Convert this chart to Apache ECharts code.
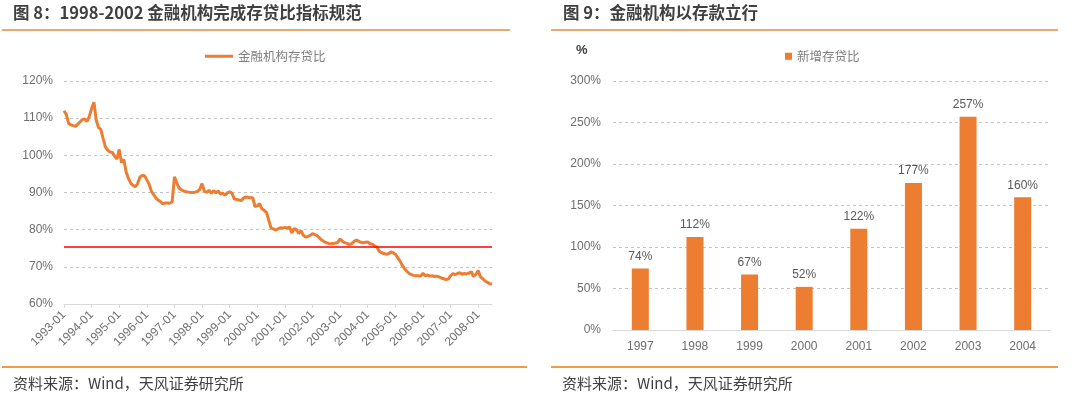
<!DOCTYPE html>
<html>
<head>
<meta charset="utf-8">
<script src="https://cdn.jsdelivr.net/npm/echarts@6/dist/echarts.min.js"></script>
<style>
html,body{margin:0;padding:0;background:#fff;}
#c{width:1080px;height:394px;}
</style>
</head>
<body>
<div id="c"></div>
<script>
// ---- Data ----
const lineYears = ['1993','1994','1995','1996','1997','1998','1999','2000','2001','2002','2003','2004','2005','2006','2007','2008'];
const lastMonth2008 = 7;
// monthly loan-to-deposit ratio (%), 1993-01 .. 2008-07
const ratio1993 = [112.0,111.0,108.6,108.2,108.0,107.8,108.4,109.0,109.6,109.8,109.1,110.5];
const ratio1994 = [112.6,114.3,109.5,107.5,107.0,104.5,102.3,101.4,100.9,100.8,99.8,99.0];
const ratio1995 = [101.6,98.0,98.9,95.5,93.8,92.5,91.9,91.6,92.4,94.2,94.6,94.5];
const ratio1996 = [93.4,92.2,90.3,89.4,88.5,87.9,87.5,86.9,87.2,87.2,87.1,87.5];
const ratio1997 = [94.2,92.6,91.2,90.7,90.4,90.2,90.1,90.0,90.0,90.1,90.3,90.8];
const ratio1998 = [92.4,90.4,90.0,90.6,89.8,90.5,89.9,90.4,89.6,89.8,89.3,89.9];
const ratio1999 = [90.2,89.8,88.3,88.1,88.0,87.8,88.5,88.8,88.7,88.6,88.6,86.2];
const ratio2000 = [86.4,87.0,85.6,85.2,84.6,82.5,80.4,80.2,79.9,80.2,80.5,80.4];
const ratio2001 = [80.6,80.4,80.7,79.1,80.3,80.0,79.0,79.7,78.5,78.0,78.2,78.5];
const ratio2002 = [78.9,78.7,78.4,77.8,77.2,76.8,76.5,76.3,76.2,76.3,76.4,76.6];
const ratio2003 = [77.5,76.9,76.5,76.3,76.0,76.2,76.8,77.2,76.9,76.6,76.5,76.6];
const ratio2004 = [76.7,76.2,76.1,75.6,75.3,74.2,73.8,73.6,73.4,73.5,74.0,73.8];
const ratio2005 = [73.4,72.5,71.6,70.4,69.5,68.8,68.2,67.9,67.7,67.6,67.6,67.5];
const ratio2006 = [68.3,67.6,67.8,67.5,67.6,67.4,67.5,67.3,67.0,66.8,66.6,66.7];
const ratio2007 = [67.6,68.2,67.9,68.2,68.4,68.0,68.2,68.1,68.3,68.7,67.4,68.0];
const ratio2008 = [69.0,67.3,66.8,66.2,65.8,65.5,65.3];
const regulatoryLine = 75.4;

const barYears = ['1997','1998','1999','2000','2001','2002','2003','2004'];
const newRatio = [74,112,67,52,122,177,257,160];

const leftYTicks = {min:60, max:120, interval:10};
const rightYTicks = {min:0, max:300, interval:50};

// ---- Build ----
const ratioAll = [].concat(ratio1993,ratio1994,ratio1995,ratio1996,ratio1997,ratio1998,ratio1999,ratio2000,
  ratio2001,ratio2002,ratio2003,ratio2004,ratio2005,ratio2006,ratio2007,ratio2008);
const months = [];
lineYears.forEach(function(y){
  const n = (y === '2008') ? lastMonth2008 : 12;
  for (let m = 1; m <= n; m++) months.push(y + '-' + (m < 10 ? '0' + m : '' + m));
});
const yearStart = function(i){ return i % 12 === 0; };

const ORANGE = '#ED7D31';
const AXIS_TXT = '#6E6E6E';
const CJK = '"Noto Sans CJK SC", "Liberation Sans", sans-serif';
const LAT = '"Liberation Sans", "Noto Sans CJK SC", sans-serif';
const gridLine = {show:true, lineStyle:{color:'#C4C4C4', type:[3,3], width:1}};

const chart = echarts.init(document.getElementById('c'), null, {renderer:'canvas'});
chart.setOption({
  animation:false,
  backgroundColor:'#fff',
  graphic:[
    {type:'text', left:13, top:4, style:{text:'图 8：1998-2002 金融机构完成存贷比指标规范', font:'bold 16.5px ' + CJK, fill:'#404040'}},
    {type:'text', left:563, top:4, style:{text:'图 9：金融机构以存款立行', font:'bold 16.5px ' + CJK, fill:'#404040'}},
    {type:'line', shape:{x1:2,y1:30,x2:510,y2:30}, style:{stroke:'#E9A96E', lineWidth:2}},
    {type:'line', shape:{x1:551,y1:30,x2:1058,y2:30}, style:{stroke:'#E9A96E', lineWidth:2}},
    {type:'line', shape:{x1:2,y1:367,x2:527,y2:367}, style:{stroke:'#F29B45', lineWidth:2}},
    {type:'line', shape:{x1:551,y1:367,x2:1058,y2:367}, style:{stroke:'#F29B45', lineWidth:2}},
    {type:'text', left:13, top:376, style:{text:'资料来源：Wind，天风证券研究所', font:'15px ' + CJK, fill:'#404040'}},
    {type:'text', left:562, top:376, style:{text:'资料来源：Wind，天风证券研究所', font:'15px ' + CJK, fill:'#404040'}},
    {type:'text', left:576, top:44, style:{text:'%', font:'bold 13px ' + LAT, fill:'#404040'}}
  ],
  legend:[
    {data:['金融机构存贷比'], left:200, top:45, icon:'rect', itemWidth:28, itemHeight:3, itemGap:5,
     textStyle:{color:'#7F7F7F', fontSize:12.5, fontFamily:CJK}},
    {data:['新增存贷比'], left:780, top:45, icon:'rect', itemWidth:7, itemHeight:7, itemGap:5,
     textStyle:{color:'#7F7F7F', fontSize:12.5, fontFamily:CJK}}
  ],
  grid:[
    {left:64, top:81, width:428, height:223, containLabel:false},
    {left:613, top:81, width:437, height:249, containLabel:false}
  ],
  xAxis:[
    {gridIndex:0, type:'category', data:months, boundaryGap:false,
     axisLine:{lineStyle:{color:'#D9D9D9'}},
     axisTick:{show:true, interval:yearStart, length:4, lineStyle:{color:'#D9D9D9'}},
     axisLabel:{interval:yearStart, rotate:45, color:AXIS_TXT, fontSize:12, fontFamily:LAT, margin:9},
     splitLine:{show:false}},
    {gridIndex:1, type:'category', data:barYears,
     axisLine:{lineStyle:{color:'#D9D9D9'}},
     axisTick:{show:false},
     axisLabel:{color:AXIS_TXT, fontSize:12, fontFamily:LAT, margin:11}}
  ],
  yAxis:[
    {gridIndex:0, type:'value', min:leftYTicks.min, max:leftYTicks.max, interval:leftYTicks.interval,
     axisLine:{show:false}, axisTick:{show:false},
     axisLabel:{formatter:'{value}%', color:AXIS_TXT, fontSize:12, fontFamily:LAT, margin:11},
     splitLine:gridLine},
    {gridIndex:1, type:'value', min:rightYTicks.min, max:rightYTicks.max, interval:rightYTicks.interval,
     axisLine:{show:false}, axisTick:{show:false},
     axisLabel:{formatter:'{value}%', color:AXIS_TXT, fontSize:12, fontFamily:LAT, margin:12},
     splitLine:gridLine}
  ],
  series:[
    {name:'金融机构存贷比', type:'line', xAxisIndex:0, yAxisIndex:0, data:ratioAll,
     showSymbol:false, symbol:'none', lineStyle:{color:ORANGE, width:3}, itemStyle:{color:ORANGE},
     markLine:{silent:true, symbol:'none', label:{show:false},
       lineStyle:{color:'#FF0000', width:1.5, type:'solid'},
       data:[{yAxis:regulatoryLine}]}},
    {name:'新增存贷比', type:'bar', xAxisIndex:1, yAxisIndex:1, data:newRatio, barWidth:17,
     itemStyle:{color:ORANGE},
     label:{show:true, position:'top', formatter:'{c}%', color:'#595959', fontSize:12, fontFamily:LAT, distance:6}}
  ]
});
</script>
</body>
</html>
